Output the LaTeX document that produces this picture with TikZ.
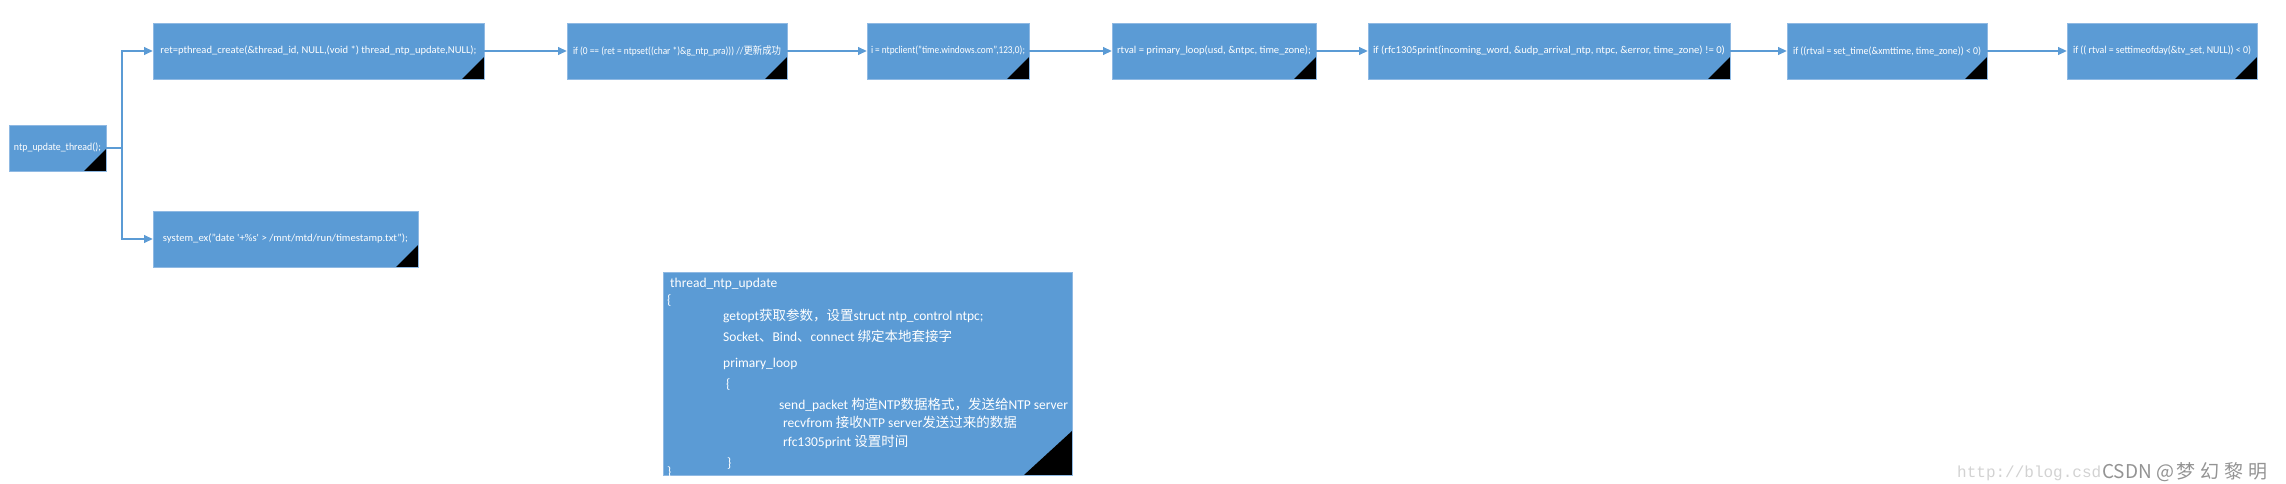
\documentclass[tikz,border=0pt]{standalone}
\usepackage{graphicx}
\usepackage{fontspec}
\setmainfont{Carlito}
\newfontfamily\cjk{Noto Sans CJK SC}
\newfontfamily\monof{Liberation Mono}
\usetikzlibrary{arrows.meta}
\definecolor{boxblue}{HTML}{5B9BD5}
\definecolor{edgeblue}{HTML}{8FB9E3}
\definecolor{lineblue}{HTML}{5B9BD5}
\newcommand{\fitto}[2]{\resizebox{#1}{\height}{#2}}
\begin{document}
\begin{tikzpicture}[x=1pt,y=-1pt,
  box/.style={rectangle, fill=boxblue, draw=edgeblue, line width=0.8pt, inner sep=0pt,
    text=white, font=\fontsize{10.5}{12}\selectfont, minimum height=56pt,
    path picture={\fill[black] (path picture bounding box.south east) -- ++(-22pt,0pt) -- ++(22pt,22pt) -- cycle;}},
  bigbox/.style={rectangle, fill=boxblue, draw=edgeblue, line width=0.8pt, inner sep=0pt,
    path picture={\fill[black] (path picture bounding box.south east) -- ++(-48pt,0pt) -- ++(48pt,44pt) -- cycle;}},
  codeline/.style={anchor=base west, inner sep=0pt, text=white, font=\fontsize{13.5}{15}\selectfont},
  conn/.style={draw=lineblue, line width=1.1pt, -{Triangle[length=8.5pt,width=8pt]}},
  ]
\useasboundingbox (0,0) rectangle (2286,484);

% left node
\node[box, minimum width=97pt, minimum height=46pt] (ntp) at (57.5,148) {\fitto{87pt}{ntp\_update\_thread();}};

% top row
\node[box, minimum width=331pt] (b1) at (318.5,51) {\fitto{316pt}{ret=pthread\_create(\&thread\_id, NULL,(void *) thread\_ntp\_update,NULL);}};
\node[box, minimum width=220pt] (b2) at (677,51) {\fitto{208pt}{if (0 == (ret = ntpset((char *)\&g\_ntp\_pra))) //{\cjk 更新成功}}};
\node[box, minimum width=162pt] (b3) at (948,51) {\fitto{154pt}{i = ntpclient("time.windows.com",123,0);}};
\node[box, minimum width=204pt] (b4) at (1214,51) {\fitto{194pt}{rtval = primary\_loop(usd, \&ntpc, time\_zone);}};
\node[box, minimum width=362pt] (b5) at (1549,51) {\fitto{352pt}{if (rfc1305print(incoming\_word, \&udp\_arrival\_ntp, ntpc, \&error, time\_zone) != 0)}};
\node[box, minimum width=200pt] (b6) at (1887,51) {\fitto{188pt}{if ((rtval = set\_time(\&xmttime, time\_zone)) < 0)}};
\node[box, minimum width=190pt] (b7) at (2162,51) {\fitto{178pt}{if (( rtval = settimeofday(\&tv\_set, NULL)) < 0)}};

% lower branch
\node[box, minimum width=265pt] (sx) at (285.5,239) {\fitto{245pt}{system\_ex("date \textquotesingle+\%s\textquotesingle{} > /mnt/mtd/run/timestamp.txt");}};

% connectors
\coordinate (br) at (122,148);
\draw[conn] (ntp.east) -- (br) |- (b1.west);
\draw[conn] (br) |- (sx.west);
\draw[conn] (b1) -- (b2);
\draw[conn] (b2) -- (b3);
\draw[conn] (b3) -- (b4);
\draw[conn] (b4) -- (b5);
\draw[conn] (b5) -- (b6);
\draw[conn] (b6) -- (b7);

% code box
\node[bigbox, minimum width=409pt, minimum height=203pt] (code) at (867.5,373.5) {};
\node[codeline] (l1) at (670,287.5) {thread\_ntp\_update};
\node[codeline] (l2) at (667,304) {\{};
\node[codeline] (l3) at (723,320) {getopt{\cjk 获取参数，设置}struct ntp\_control ntpc;};
\node[codeline] (l4) at (723,341) {Socket{\cjk 、}Bind{\cjk 、}connect {\cjk 绑定本地套接字}};
\node[codeline] (l5) at (723,367.5) {primary\_loop};
\node[codeline] (l6) at (726,388) {\{};
\node[codeline] (l7) at (779,409.5) {send\_packet {\cjk 构造}NTP{\cjk 数据格式，发送给}NTP server};
\node[codeline] (l8) at (783,427) {recvfrom {\cjk 接收}NTP server{\cjk 发送过来的数据}};
\node[codeline] (l9) at (783,446) {rfc1305print {\cjk 设置时间}};
\node[codeline] (l10) at (727,467) {\}};
\node[codeline] (l11) at (667,476) {\}};

% watermark
\node[anchor=base west, inner sep=0pt, text=gray!35, font=\monof\fontsize{16}{16}\selectfont] (wm1) at (1957,477) {http://blog.csd};
\node[anchor=base west, inner sep=0pt, text=gray!85, font=\cjk\fontsize{19}{19}\selectfont] (wm2) at (2102,478) {CSDN @\hspace{2pt}梦\hspace{5pt}幻\hspace{5pt}黎\hspace{5pt}明};
\end{tikzpicture}
\end{document}
